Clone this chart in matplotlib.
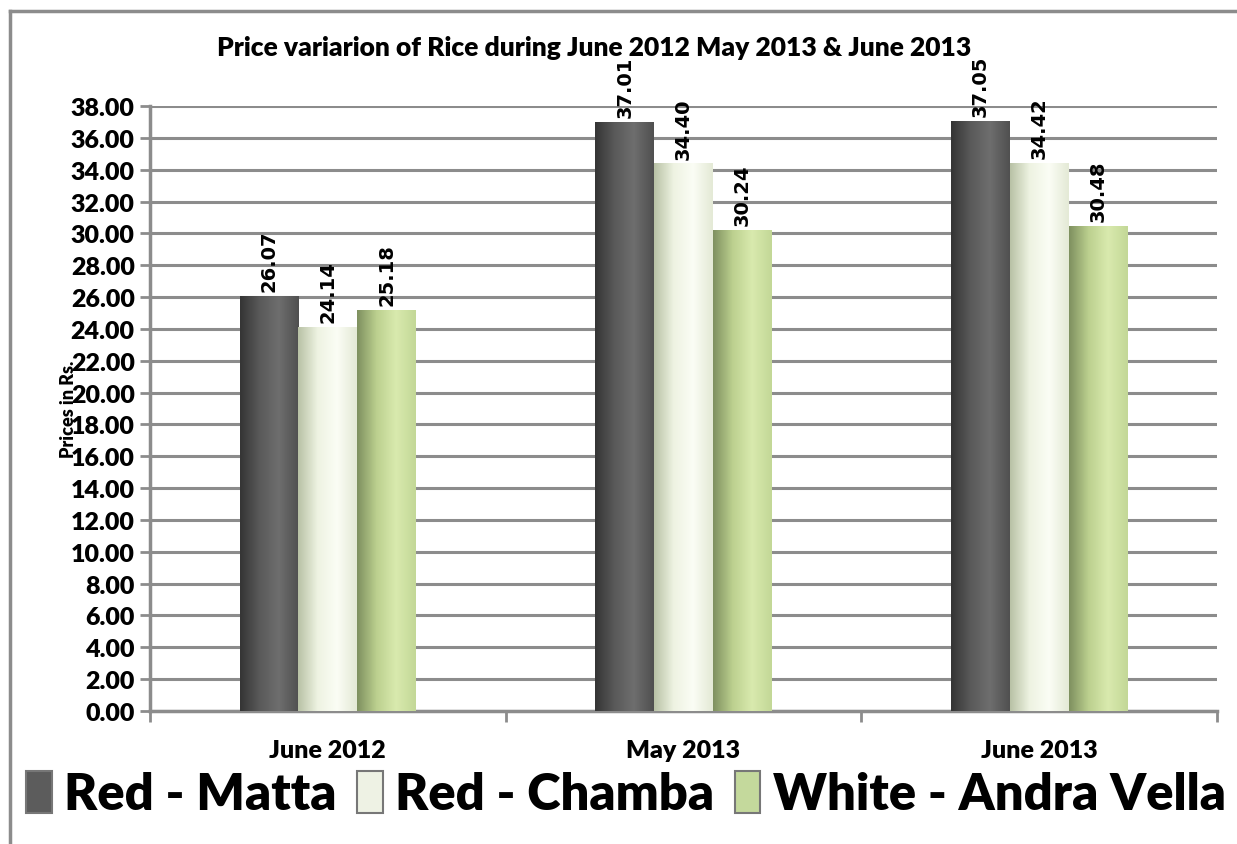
import numpy as np
import matplotlib
matplotlib.use("Agg")
import matplotlib.pyplot as plt
from matplotlib.colors import LinearSegmentedColormap
from matplotlib.patches import Rectangle

# --- Data ---
categories = ["June 2012", "May 2013", "June 2013"]
series = ["Red - Matta", "Red - Chamba", "White - Andra Vella"]
red_matta = [26.07, 37.01, 37.05]
red_chamba = [24.14, 34.40, 34.42]
white_andra = [25.18, 30.24, 30.48]
yticks = np.arange(0, 38.01, 2)

values = [red_matta, red_chamba, white_andra]
# cylinder-ish shading for each series: edge -> highlight -> edge
shades = [
    ["#353535", "#5a5a5a", "#6e6e6e", "#505050"],
    ["#b9c2a6", "#eef3e2", "#fbfdf5", "#e4ead6"],
    ["#7f9160", "#bcd08f", "#d9eaae", "#c3d897"],
]
legend_face = ["#5c5c5c", "#eef2e4", "#c4d99c"]

plt.rcParams['font.family'] = ['Lato', 'DejaVu Sans']

fig = plt.figure(figsize=(12.37, 8.45), dpi=100)
# outer frame
fig.add_artist(plt.Line2D([10 / 1237, 10 / 1237], [0, 1 - 12 / 845], color="#8c8c8c", lw=2.5))
fig.add_artist(plt.Line2D([10 / 1237, 1], [1 - 12 / 845, 1 - 12 / 845], color="#8c8c8c", lw=2.5))

ax = fig.add_axes([150 / 1237, 1 - 712 / 845, (1217 - 150) / 1237, (712 - 107) / 845])

x = np.arange(len(categories))
width = 0.165
for i, (vals, cols) in enumerate(zip(values, shades)):
    cmap = LinearSegmentedColormap.from_list(f"s{i}", cols)
    pos = x + (i - 1) * width
    bars = ax.bar(pos, vals, width, color=cols[2], edgecolor="none", zorder=3)
    for b, v in zip(bars, vals):
        grad = np.linspace(0, 1, 64).reshape(1, -1)
        im = ax.imshow(grad, cmap=cmap, aspect="auto", zorder=3.5,
                       extent=[b.get_x(), b.get_x() + b.get_width(), 0, v])
        im.set_clip_path(b)
        ax.text(b.get_x() + b.get_width() / 2, v + 0.3, f"{v:.2f}", rotation=90,
                ha="center", va="bottom", fontsize=14, fontweight="bold",
                family="DejaVu Sans", clip_on=False, zorder=5)

ax.set_xlim(-0.5, 2.5)
ax.set_ylim(0, 38)
ax.set_yticks(yticks)
ax.set_yticklabels([f"{t:.2f}" for t in yticks], fontsize=18, fontweight="heavy")
ax.yaxis.grid(True, color="#8c8c8c", lw=2.2, zorder=0)
ax.set_axisbelow(True)

ax.set_xticks([-0.5, 0.5, 1.5, 2.5])
ax.set_xticklabels([])
ax.set_xticks(x, minor=True)
ax.set_xticklabels(categories, minor=True, fontsize=18, fontweight="heavy")
ax.tick_params(axis="x", which="major", direction="out", length=8, width=2, color="#8c8c8c")
ax.tick_params(axis="x", which="minor", length=0, pad=20)
ax.tick_params(axis="y", direction="out", length=7, width=2, color="#8c8c8c", pad=4)

for s in ["top", "right"]:
    ax.spines[s].set_visible(False)
for s in ["left", "bottom"]:
    ax.spines[s].set_color("#8c8c8c")
    ax.spines[s].set_linewidth(2.5)

ax.set_ylabel("Prices in Rs.", fontsize=13, fontweight="heavy")
ax.yaxis.set_label_coords(-0.068, 0.5)

fig.text(594 / 1237, 1 - 48 / 845, "Price variarion of Rice during June 2012 May 2013 & June 2013",
         ha="center", va="center", fontsize=19, fontweight="heavy")

handles = [Rectangle((0, 0), 1, 1, facecolor=c, edgecolor="#777777", lw=1.5) for c in legend_face]
fig.legend(handles, series, loc="center", bbox_to_anchor=(626 / 1237, 1 - 795 / 845),
           ncol=3, frameon=False, prop={"family": "Lato", "size": 36.5, "weight": "heavy"},
           handlelength=0.5, handleheight=0.9, handletextpad=0.25, columnspacing=0.4)

fig.savefig("out.png", dpi=100)
